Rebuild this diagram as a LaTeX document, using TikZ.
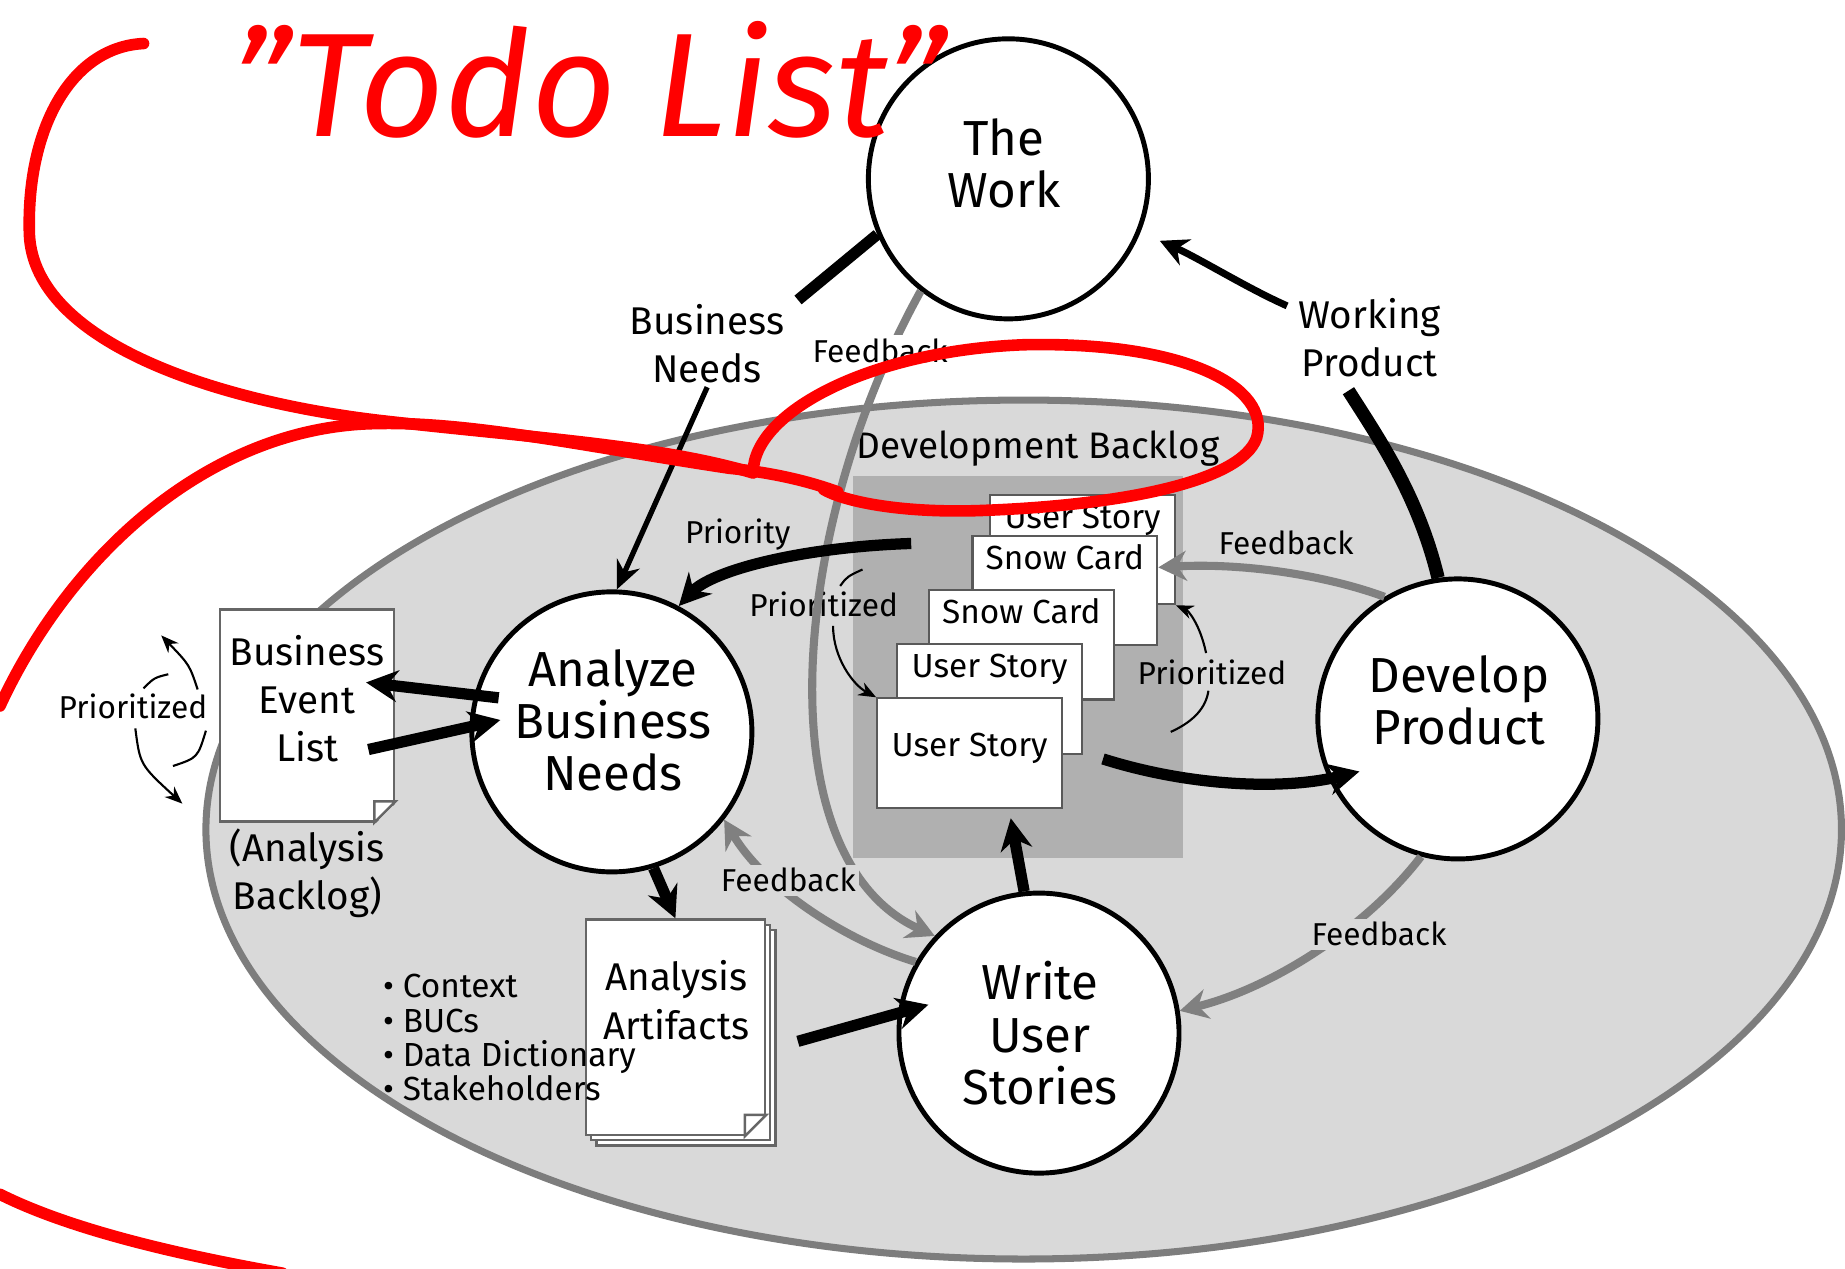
\documentclass[tikz,border=0pt]{standalone}
\usepackage{fontspec}
\setmainfont{Fira Sans}
\usetikzlibrary{arrows.meta,calc,shadows}

\definecolor{ovalfill}{RGB}{217,217,217}
\definecolor{ovalline}{RGB}{125,125,125}
\definecolor{blogfill}{RGB}{176,176,176}
\definecolor{fbgray}{RGB}{128,128,128}
\definecolor{pen}{RGB}{255,0,0}

\tikzset{
  proc/.style={circle, draw, line width=1.4pt, fill=white, minimum size=2.8cm, inner sep=0pt},
  proctxt/.style={inner sep=0pt, align=center, font=\fontsize{14}{14.8}\selectfont},
  docpage/.style={rectangle, draw=black!60, line width=0.7pt, fill=white, inner sep=0pt},
  card/.style={rectangle, draw=black!65, line width=0.6pt, fill=white,
    minimum width=1.847cm, minimum height=1.094cm, inner xsep=2pt, inner ysep=2pt,
    text height=7.5pt, text depth=19.5pt, font=\fontsize{9.5}{10}\selectfont},
  lbl/.style={inner sep=1pt, align=center, font=\fontsize{11}{13.7}\selectfont},
  small/.style={inner sep=1pt, align=center, font=\fontsize{9}{10}\selectfont},
  fat/.style={line width=3.2pt, -{Stealth[length=9pt,width=9pt]}},
  fb/.style={draw=fbgray, line width=2.3pt, -{Stealth[length=8pt,width=8.5pt]}},
  thinarr/.style={line width=0.6pt, -{Stealth[length=5pt,width=4pt]}},
  redpen/.style={draw=pen, line width=3.3pt, line cap=round, line join=round},
}

\begin{document}
\begin{tikzpicture}[x=0.011767cm, y=-0.011767cm]
\useasboundingbox (0,0) rectangle (1568,1078);
% shaded oval
\draw[ovalline, line width=2pt, fill=ovalfill] (870,705) ellipse [x radius=695, y radius=365];
% development backlog
\node[fill=blogfill, minimum width=3.295cm, minimum height=3.824cm, inner sep=0pt] (backlog) at (865,567) {};
\node[lbl, font=\fontsize{10.5}{12}\selectfont] (devbl) at (882,381) {Development Backlog};
\foreach \n/\x/\y/\txt in {usa/920/467/User Story, sca/905/502/Snow Card, scb/868/548/Snow Card, usb/841/594/User Story}
    \node[card] (\n) at (\x,\y) {\txt};
\node[card, text height=14.5pt, text depth=12.5pt] (usc) at (824,640) {User Story};
% processes
\node[proc] (work) at (857,152) {};
\node[proc] (abn) at (520,622) {};
\node[proc] (dev) at (1239,611) {};
\node[proc] (wus) at (883,878) {};
\node[proctxt] (worktxt) at (853,139) {The\\Work};
\node[proctxt] (abntxt) at (521,612) {Analyze\\Business\\Needs};
\node[proctxt] (devtxt) at (1240,595) {Develop\\Product};
\node[proctxt] (wustxt) at (884,878) {Write\\User\\Stories};
% documents
\node[docpage, minimum width=1.742cm, minimum height=2.118cm] (bel) at (261,608) {};
\fill[ovalfill] ($(bel.south east)+(3,3)$) -- ($(bel.south east)+(-19,3)$) -- ($(bel.south east)+(3,-19)$) -- cycle;
\draw[black!60, line width=0.7pt, fill=white] ($(bel.south east)+(-18,0)$) -- ($(bel.south east)+(-18,-18)$) -- ($(bel.south east)+(0,-18)$) -- cycle;
\node[lbl] (beltxt) at (261,594) {Business\\Event\\List};
\node[lbl] (abl) at (261,742) {(Analysis\\Backlog)};
\node[docpage, minimum width=1.789cm, minimum height=2.153cm,
    double copy shadow={shadow xshift=1.5pt, shadow yshift=-1.5pt, draw=black!60, fill=white}] (aa) at (574,873) {};
\fill[white] ($(aa.south east)+(1,1)$) -- ($(aa.south east)+(-19,1)$) -- ($(aa.south east)+(1,-19)$) -- cycle;
\draw[black!60, line width=0.7pt] ($(aa.south east)+(-18,0)$) -- ($(aa.south east)+(-18,-18)$) -- ($(aa.south east)+(0,-18)$) -- cycle;
\node[lbl] (aatxt) at (575,850) {Analysis\\Artifacts};
\node[lbl, font=\fontsize{9.5}{9.8}\selectfont, align=left, anchor=west] (arts) at (322,882)
    {\textbullet\ Context\\\textbullet\ BUCs\\\textbullet\ Data Dictionary\\\textbullet\ Stakeholders};
% labels on flows
\node[lbl] (bneeds) at (601,292) {Business\\Needs};
\node[lbl] (wprod) at (1164,287) {Working\\Product};
\node[small] (prio) at (627,454) {Priority};
\node[small] (prl) at (700,514) {Prioritized};
\node[small] (prr) at (1030,571) {Prioritized};
\node[small] (prb) at (113,600) {Prioritized};
% flows
\draw[line width=3.2pt] (work.203) -- ($(bneeds.north east)+(8,0)$);
\draw[line width=1.5pt, -{Stealth[length=8pt,width=7pt]}] (bneeds.south) -- (abn.88);
\draw[line width=3.8pt] (dev.98) .. controls (1205,420) and (1170,370) .. ($(wprod.south)+(-18,8)$);
\draw[line width=2pt, -{Stealth[length=8pt,width=8pt]}, shorten >=6pt] ($(wprod.north west)+(-6,10)$) .. controls (1060,245) and (1020,220) .. (work.338);
\draw[fb] (work.232) .. controls (670,450) and (650,730) .. (wus.137);
\draw[fat] ($(backlog.north west)+(50,58)$) .. controls (680,465) and (605,485) .. (abn.62);
\draw[fat, shorten >=-9pt] ($(usc.east)+(34,5)$) .. controls (1010,668) and (1090,672) .. (dev.205);
\draw[fb] (dev.121) .. controls (1130,490) and (1060,478) .. (sca.14);
\draw[fb] (dev.255) .. controls (1160,790) and (1080,840) .. (wus.9);
\draw[fb] (wus.150) .. controls (720,800) and (650,755) .. (abn.322);
\draw[fat] (wus.96) -- ($(usc.south)+(35,8)$);
\draw[fat] (abn.287) -- (aa.north);
\draw[fat, shorten >=-9pt] ($(aa.east)+(27,12)$) -- (wus.172);
\draw[fat, shorten <=-7pt] (abn.165) -- ($(bel.east)+(-25,-28)$);
\draw[fat, shorten >=-9pt] ($(bel.east)+(-23,29)$) -- (abn.178);
% prioritized arcs
\draw[line width=0.6pt] ($(prl)+(14,-16)$) .. controls ($(prl)+(20,-24)$) .. ($(prl)+(33,-30)$);
\draw[thinarr] ($(prl)+(8,18)$) .. controls ($(prl)+(8,45)$) and ($(prl)+(25,68)$) .. (usc.north west);
\draw[line width=0.6pt] ($(prr)+(-35,51)$) .. controls ($(prr)+(-15,42)$) and ($(prr)+(-5,30)$) .. ($(prr)+(-3,16)$);
\draw[thinarr] ($(prr)+(-5,-16)$) .. controls ($(prr)+(-10,-40)$) and ($(prr)+(-20,-52)$) .. (usa.south east);
\draw[thinarr] ($(prb)+(55,-14)$) .. controls ($(prb)+(48,-35)$) .. ($(prb)+(24,-60)$);
\draw[line width=0.6pt] ($(prb)+(9,-15)$) .. controls ($(prb)+(18,-24)$) .. ($(prb)+(30,-27)$);
\draw[thinarr] ($(prb)+(2,19)$) .. controls ($(prb)+(6,50)$) .. ($(prb)+(42,83)$);
\draw[line width=0.6pt] ($(prb)+(34,51)$) .. controls ($(prb)+(55,44)$) .. ($(prb)+(62,21)$);
% feedback labels
\node[small, fill=white] (fb1) at (748,298) {Feedback};
\node[small] (fb2) at (1093,461) {Feedback};
\node[small, fill=ovalfill] (fb3) at (1172,794) {Feedback};
\node[small, fill=ovalfill] (fb4) at (670,748) {Feedback};
% red pen notes
\node[text=pen, font=\itshape\fontsize{42}{42}\selectfont, inner sep=0pt] (todo) at (500,68) {"Todo List"};
\draw[redpen] (122,37) .. controls (60,40) and (22,110) .. (25,200)
    .. controls (30,290) and (180,340) .. (320,357)
    .. controls (450,372) and (560,378) .. (640,402)
    .. controls (640,350) and (740,298) .. (870,293)
    .. controls (1010,290) and (1080,330) .. (1068,372)
    .. controls (1055,410) and (950,430) .. (830,434)
    .. controls (760,436) and (715,425) .. (700,416);
\draw[redpen] (712,418) .. controls (690,410) and (660,402) .. (620,398)
    .. controls (500,380) and (400,358) .. (320,360)
    .. controls (180,362) and (60,470) .. (0,600);
\draw[redpen] (0,1015) .. controls (60,1045) and (150,1066) .. (240,1082);
\end{tikzpicture}
\end{document}
